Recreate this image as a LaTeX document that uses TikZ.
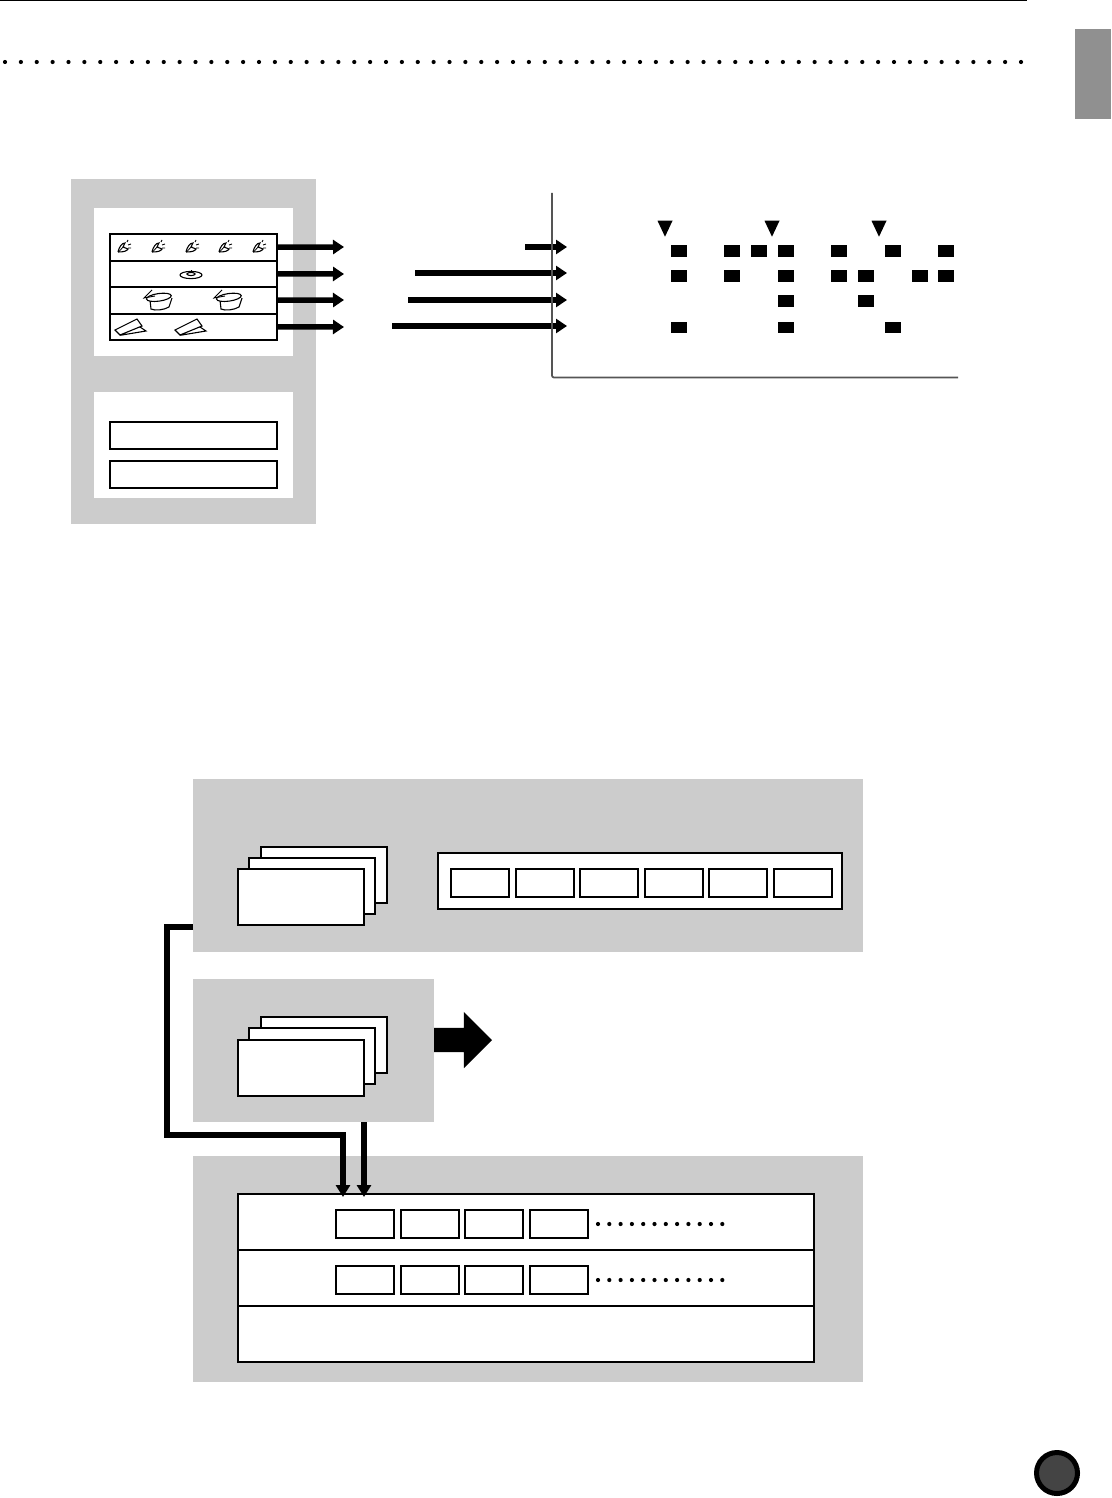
\documentclass[tikz,border=0pt]{standalone}
\usepackage{amsmath}
\usetikzlibrary{arrows.meta,positioning,shapes.geometric,shapes.arrows,calc}
\definecolor{pgray}{HTML}{CCCCCC}
\definecolor{tabgray}{HTML}{909090}
\definecolor{axgray}{HTML}{555555}
\definecolor{discgray}{HTML}{444444}
\tikzset{
  panel/.style={fill=pgray,inner sep=0pt,outer sep=0pt,anchor=north west},
  inset/.style={fill=white,inner sep=0pt,outer sep=0pt,anchor=north west},
  box/.style={draw=black,line width=2pt,fill=white,inner sep=0pt,outer sep=0pt,anchor=north west},
  card/.style={box,minimum width=126pt,minimum height=55.5pt},
  cell/.style={box,minimum width=58pt,minimum height=28pt},
  row/.style={box,minimum width=167pt,minimum height=26.5pt},
  hit/.style={fill=black,inner sep=0pt,outer sep=0pt,minimum width=16pt,minimum height=11.5pt},
  beat/.style={isosceles triangle,isosceles triangle stretches,shape border rotate=-90,fill=black,inner sep=0pt,outer sep=0pt,minimum width=15pt,minimum height=16pt},
  ar/.style={-{Triangle[length=11pt,width=14pt]},draw=black,line width=5.5pt},
  busar/.style={-{Triangle[length=12pt,width=14pt]},draw=black,line width=5.5pt},
  axisl/.style={draw=axgray,line width=1.8pt,rounded corners=2pt},
  dotline/.style={draw=black,line width=4.2pt,line cap=round,dash pattern=on 0pt off #1},
  icon/.style={draw=black,line width=1.1pt,fill=white},
  hihat/.pic={
    \draw[icon] (-6,5) .. controls (-5,0) and (-2,-4) .. (1,-4) -- (-1,0) -- (4,2) .. controls (3,4) and (0,5) .. (-6,5);
    \draw[line width=.8pt] (-5,4.5)--(0,-1);
    \draw[line width=.9pt] (3,-5)--(4,-7) (4,-2)--(7,-3) (4,1)--(7,1);
  },
  cymbal/.pic={
    \draw[icon] (0,1) ellipse (11pt and 3.6pt);
    \draw[icon] (0,0) ellipse (4pt and 1.6pt);
    \draw[line width=.9pt] (0,-2)--(0,-4.5);
  },
  drumk/.pic={
    \draw[icon] (-8,-2) -- (-7,7) .. controls (-3,9) and (6,8) .. (11,5) -- (14,-4);
    \draw[icon,rotate=8] (1.5,-4.5) ellipse (12.5pt and 3.8pt);
    \draw[line width=.9pt] (-6,-12)--(-14,-4)--(-3,-6);
  },
  wedge/.pic={
    \draw[icon] (-8,8) -- (16,4) -- (7,-2) -- cycle;
    \draw[icon] (-15,3) -- (7,-8) -- (12,-1) -- (-10,8) -- cycle;
  },
}
\begin{document}
\begin{tikzpicture}[x=1pt,y=-1pt,node distance=6.6pt]
  \useasboundingbox (0,0) rectangle (1111,1498);
  % page furniture
  \coordinate (rulea) at (0,.6);\coordinate (ruleb) at (1027,.6);
  \draw[line width=1.6pt] (rulea)--(ruleb);
  \coordinate (dota) at (5,62);\coordinate (dotb) at (1024,62);
  \draw[dotline=15.875pt] (dota)--(dotb);
  \node[inset,fill=tabgray,minimum width=36pt,minimum height=90pt] (tab) at (1075,29){};
  \node[circle,draw=black,fill=discgray,line width=5pt,minimum size=41pt,inner sep=0pt] (pagedisc) at (1057,1473){};

  % kit panel
  \node[panel,minimum width=245pt,minimum height=345pt] (kitpanel) at (71,179){};
  \node[inset,minimum width=199pt,minimum height=148pt] (kitup) at (94,208){};
  \node[inset,minimum width=199pt,minimum height=106pt] (kitlow) at (94,392){};
  \node[row] (rowa) at (110,234){};
  \node[row,below=0pt of rowa] (rowb){};
  \node[row,below=0pt of rowb] (rowc){};
  \node[row,below=0pt of rowc] (rowd){};
  \node[row] (slota) at (110,422){};
  \node[row] (slotb) at (110,461){};
  \pic at (124,247) {hihat};\pic at (158,247) {hihat};\pic at (192,247) {hihat};\pic at (225,247) {hihat};\pic at (259,247) {hihat};
  \pic at (191,274) {cymbal};
  \pic at (158,302) {drumk};\pic at (228,302) {drumk};
  \pic at (130,327) {wedge};\pic at (190,327) {wedge};

  % arrows out of the kit
  \coordinate (outa) at (344,247);\coordinate (outb) at (344,274);\coordinate (outc) at (344,300);\coordinate (outd) at (344,327);
  \draw[ar](rowa.east)--(outa);\draw[ar](rowb.east)--(outb);\draw[ar](rowc.east)--(outc);\draw[ar](rowd.east)--(outd);
  \coordinate (ina) at (525,247);\coordinate (inb) at (415,273);\coordinate (inc) at (408,300);\coordinate (ind) at (392,326);
  \coordinate (tipa) at (567,247);\coordinate (tipb) at (567,273);\coordinate (tipc) at (567,300);\coordinate (tipd) at (567,326);
  \draw[ar](ina)--(tipa);\draw[ar](inb)--(tipb);\draw[ar](inc)--(tipc);\draw[ar](ind)--(tipd);

  % grid
  \coordinate (axtop) at (552,193);\coordinate (axend) at (958,377.5);
  \draw[axisl](axtop)|-(axend);
  \node[beat] (beata) at (665,225.5){};\node[beat] (beatb) at (772,225.5){};\node[beat] (beatc) at (879,225.5){};
  \node[hit] (a1) at (679,251){};\node[hit] (a2) at (732,251){};\node[hit] (a3) at (759,251){};\node[hit] (a4) at (786,251){};
  \node[hit] (a5) at (839,251){};\node[hit] (a6) at (893,251){};\node[hit] (a7) at (946,251){};
  \node[hit] (b1) at (679,276){};\node[hit] (b2) at (732,276){};\node[hit] (b3) at (786,276){};\node[hit] (b4) at (839,276){};
  \node[hit] (b5) at (866,276){};\node[hit] (b6) at (919.5,276){};\node[hit] (b7) at (946,276){};
  \node[hit] (c1) at (786,301){};\node[hit] (c2) at (866,301){};
  \node[hit] (d1) at (679,327.5){};\node[hit] (d2) at (786,327.5){};\node[hit] (d3) at (893,327.5){};

  % upper block
  \node[panel,minimum width=670pt,minimum height=173pt] (upper) at (193,779){};
  \node[card] (upa) at (261,847){};
  \node[card] (upb) at ([xshift=-12pt,yshift=-11pt]upa.north west){};
  \node[card] (upc) at ([xshift=-11pt,yshift=-11pt]upb.north west){};
  \node[box,minimum width=404pt,minimum height=56pt] (strip) at (438,853){};
  \node[cell] (sa) at (451,869){};
  \node[cell,right=of sa] (sb){};
  \node[cell,right=of sb] (sc){};
  \node[cell,right=of sc] (sd){};
  \node[cell,right=of sd] (se){};
  \node[cell,right=of se] (sf){};

  % middle block
  \node[panel,minimum width=241pt,minimum height=143pt] (middle) at (193,979){};
  \node[card] (mida) at (261,1017){};
  \node[card] (midb) at ([xshift=-12pt,yshift=-11pt]mida.north west){};
  \node[card] (midc) at ([xshift=-11pt,yshift=-12pt]midb.north west){};
  \node[single arrow,fill=black,inner sep=0pt,outer sep=0pt,anchor=west,text height=24pt,text depth=0pt,minimum width=56pt,minimum height=58pt,single arrow head extend=16pt,single arrow head indent=0pt] (bigar) at ([yshift=10.5pt]middle.east){};

  % lower block
  \node[panel,minimum width=670pt,minimum height=226pt] (lower) at (193,1156){};
  \node[box,minimum width=576pt,minimum height=56pt] (la) at (238,1194){};
  \node[box,minimum width=576pt,minimum height=56pt,below=0pt of la] (lb){};
  \node[box,minimum width=576pt,minimum height=56pt,below=0pt of lb] (lc){};
  \node[cell] (la1) at (336,1210){};
  \node[cell,right=of la1] (la2){};
  \node[cell,right=of la2] (la3){};
  \node[cell,right=of la3] (la4){};
  \node[cell] (lb1) at (336,1266){};
  \node[cell,right=of lb1] (lb2){};
  \node[cell,right=of lb2] (lb3){};
  \node[cell,right=of lb3] (lb4){};
  \coordinate (moa) at (598,1224);\coordinate (mob) at (723,1224);
  \coordinate (moc) at (598,1280);\coordinate (mod) at (723,1280);
  \draw[dotline=11.3pt] (moa)--(mob);
  \draw[dotline=11.3pt] (moc)--(mod);

  % buses
  \coordinate (bend) at (167,1135);
  \draw[busar,line join=miter] ([yshift=25pt]upper.south west)-|(bend)-|([xshift=105pt,yshift=-3pt]la.north west);
  \draw[busar] ([xshift=171pt]middle.south west)--([xshift=126pt,yshift=-3pt]la.north west);
\end{tikzpicture}
\end{document}
